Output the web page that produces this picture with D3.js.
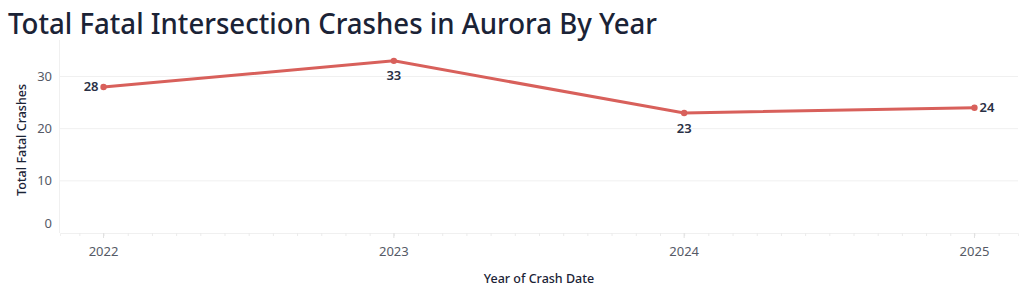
<!DOCTYPE html>
<html>
<head>
<meta charset="utf-8">
<script src="https://cdn.jsdelivr.net/npm/d3@7"></script>
<style>
  body { margin: 0; background: #fff; }
  text { font-family: "Noto Sans", sans-serif; }
</style>
</head>
<body>
<div id="chart"></div>
<script>
// Data
const years = [2022, 2023, 2024, 2025];
const crashes = [28, 33, 23, 24];
const yTicks = [0, 10, 20, 30];
const labelPos = ["left", "below", "below", "right"];

const svg = d3.select("#chart")
  .append("svg")
  .attr("width", 1024)
  .attr("height", 293);

const xScale = d3.scaleLinear().domain([2021.85, 2025.15]).range([60, 1018]);
const yScale = d3.scaleLinear().domain([0, 30]).range([233, 76.5]);

// Title
svg.append("text")
  .attr("x", 8)
  .attr("y", 34)
  .attr("font-size", 29)
  .attr("font-weight", 500)
  .attr("fill", "#1b2336")
  .attr("textLength", 649)
  .attr("lengthAdjust", "spacingAndGlyphs")
  .text("Total Fatal Intersection Crashes in Aurora By Year");

// Gridlines
svg.append("g")
  .selectAll("line")
  .data(yTicks.filter(d => d > 0))
  .join("line")
  .attr("x1", 60)
  .attr("x2", 1018)
  .attr("y1", d => yScale(d))
  .attr("y2", d => yScale(d))
  .attr("stroke", "#f0f0f0")
  .attr("stroke-width", 1);

// Left axis line
svg.append("line")
  .attr("x1", 59.5).attr("x2", 59.5)
  .attr("y1", 40).attr("y2", 233)
  .attr("stroke", "#f0f0f0");

// Y tick labels
svg.append("g")
  .selectAll("text")
  .data(yTicks)
  .join("text")
  .attr("x", 52)
  .attr("y", d => d === 0 ? yScale(d) - 10 : yScale(d))
  .attr("dy", "0.35em")
  .attr("text-anchor", "end")
  .attr("font-size", 13)
  .attr("fill", "#555a66")
  .text(d => d);

// Bottom axis with monthly minor ticks
const xAxis = d3.axisBottom(xScale)
  .tickValues(d3.range(2021.9166667, 2025.15, 1 / 12))
  .tickSize(3)
  .tickFormat("");

const xg = svg.append("g")
  .attr("transform", "translate(0,233)")
  .call(xAxis);
xg.select(".domain").attr("stroke", "#f0f0f0");
xg.selectAll(".tick line").attr("stroke", "#ebebeb");

svg.append("g")
  .selectAll("line")
  .data(years)
  .join("line")
  .attr("x1", d => xScale(d))
  .attr("x2", d => xScale(d))
  .attr("y1", 233)
  .attr("y2", 238)
  .attr("stroke", "#e0e0e0");

svg.append("g")
  .selectAll("text")
  .data(years)
  .join("text")
  .attr("x", d => xScale(d))
  .attr("y", 256)
  .attr("text-anchor", "middle")
  .attr("font-size", 13)
  .attr("fill", "#555a66")
  .text(d => d);

// Axis titles
svg.append("text")
  .attr("x", 539)
  .attr("y", 283)
  .attr("text-anchor", "middle")
  .attr("font-size", 12.5)
  .attr("font-weight", 500)
  .attr("fill", "#1b2336")
  .text("Year of Crash Date");

svg.append("text")
  .attr("transform", "translate(26,140) rotate(-90)")
  .attr("text-anchor", "middle")
  .attr("font-size", 12.5)
  .attr("font-weight", 500)
  .attr("fill", "#1b2336")
  .text("Total Fatal Crashes");

// Line
const points = years.map((y, i) => ({ year: y, value: crashes[i], pos: labelPos[i] }));

const line = d3.line()
  .x(d => xScale(d.year))
  .y(d => yScale(d.value));

svg.append("path")
  .datum(points)
  .attr("fill", "none")
  .attr("stroke", "#d8605b")
  .attr("stroke-width", 3)
  .attr("d", line);

svg.append("g")
  .selectAll("circle")
  .data(points)
  .join("circle")
  .attr("cx", d => xScale(d.year))
  .attr("cy", d => yScale(d.value))
  .attr("r", 3.2)
  .attr("fill", "#d8605b");

// Mark labels
svg.append("g")
  .selectAll("text")
  .data(points)
  .join("text")
  .attr("x", d => xScale(d.year) + (d.pos === "left" ? -5 : d.pos === "right" ? 5 : 0))
  .attr("y", d => yScale(d.value) + (d.pos === "below" ? 15 : 0))
  .attr("dy", "0.35em")
  .attr("text-anchor", d => d.pos === "left" ? "end" : d.pos === "right" ? "start" : "middle")
  .attr("font-size", 13)
  .attr("font-weight", 600)
  .attr("fill", "#2a3045")
  .text(d => d.value);
</script>
</body>
</html>
